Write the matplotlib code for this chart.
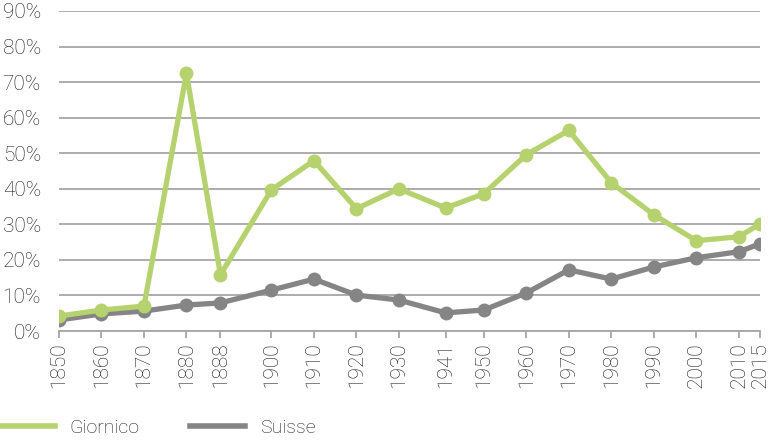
import matplotlib.pyplot as plt
from matplotlib.lines import Line2D

years = [1850, 1860, 1870, 1880, 1888, 1900, 1910, 1920, 1930, 1941,
         1950, 1960, 1970, 1980, 1990, 2000, 2010, 2015]
giornico = [4.2, 5.9, 7.0, 72.5, 15.8, 39.7, 47.9, 34.4, 40.0, 34.6,
            38.6, 49.6, 56.4, 41.7, 32.7, 25.4, 26.5, 30.1]
suisse = [3.1, 4.8, 5.6, 7.3, 7.9, 11.5, 14.6, 10.1, 8.7, 5.1,
          5.9, 10.7, 17.2, 14.6, 18.0, 20.6, 22.3, 24.5]
y_ticks = list(range(0, 91, 10))

green = '#b5d26f'
grey = '#858585'
txt = '#1a1a1a'

plt.rcParams['font.family'] = ['Roboto', 'DejaVu Sans']

fig = plt.figure(figsize=(7.68, 4.4), dpi=100)
ax = fig.add_axes([59 / 768, 1 - 331 / 440, 701 / 768, 320 / 440])

ax.plot(years, suisse, color=grey, lw=3.8, marker='o', ms=9, zorder=3,
        solid_capstyle='round')
ax.plot(years, giornico, color=green, lw=3.8, marker='o', ms=9, zorder=4,
        solid_capstyle='round')

ax.set_xlim(1850, 2015)
ax.set_ylim(0, 90)
ax.set_yticks(y_ticks)
ax.set_yticklabels([f'{v}%' for v in y_ticks])
ax.set_xticks(years)
ax.set_xticklabels([str(y) for y in years], rotation=90)

ax.grid(axis='y', color='#a6a6a6', lw=1.3)
ax.set_axisbelow(True)
for s in ['left', 'right', 'top']:
    ax.spines[s].set_visible(False)
ax.spines['bottom'].set_color('#a6a6a6')
ax.spines['bottom'].set_linewidth(1.3)
ax.tick_params(axis='y', length=0, pad=13, labelsize=15, labelcolor=txt)
ax.tick_params(axis='x', length=5, color='#a6a6a6', width=1.3, pad=3,
               labelsize=15, labelcolor=txt)
for lab in ax.get_yticklabels() + ax.get_xticklabels():
    lab.set_fontweight('light')

handles = [Line2D([], [], color=green, lw=4),
           Line2D([], [], color=grey, lw=4)]
leg = fig.legend(handles, ['Giornico', 'Suisse'], loc='center left',
                 bbox_to_anchor=(0, 12 / 440), ncol=2, frameon=False,
                 fontsize=14, handlelength=2.83, columnspacing=2.6,
                 handletextpad=0.75, borderpad=0, borderaxespad=0)
for t in leg.get_texts():
    t.set_fontweight('light')
    t.set_color(txt)

fig.savefig('out.png', dpi=100)
